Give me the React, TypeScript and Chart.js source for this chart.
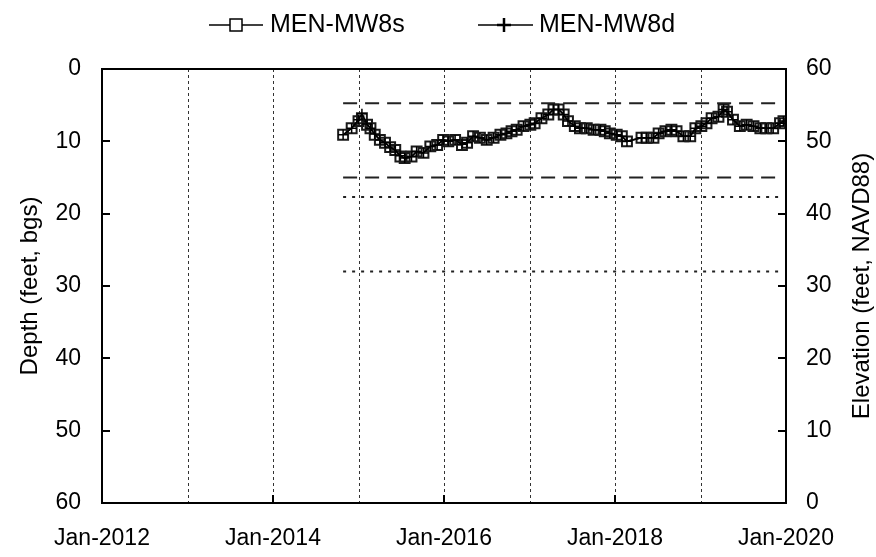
import React, { useEffect, useRef } from 'react';
import { Chart, registerables } from 'chart.js';

Chart.register(...registerables);

// ---- data ----
const sampleDates = [
  2014.82, 2014.92, 2015.0, 2015.04, 2015.1, 2015.14, 2015.19, 2015.25, 2015.31, 2015.37,
  2015.43, 2015.49, 2015.54, 2015.62, 2015.68, 2015.76, 2015.84, 2015.92, 2015.99, 2016.05,
  2016.13, 2016.21, 2016.27, 2016.34, 2016.42, 2016.5, 2016.58, 2016.66, 2016.73, 2016.79,
  2016.85, 2016.93, 2017.01, 2017.06, 2017.14, 2017.22, 2017.28, 2017.34, 2017.4, 2017.45,
  2017.53, 2017.59, 2017.67, 2017.75, 2017.83, 2017.88, 2017.94, 2018.02, 2018.08, 2018.14,
  2018.31, 2018.37, 2018.45, 2018.51, 2018.59, 2018.66, 2018.72, 2018.8, 2018.88, 2018.94,
  2019.01, 2019.07, 2019.13, 2019.21, 2019.27, 2019.31, 2019.38, 2019.46, 2019.54, 2019.62,
  2019.7, 2019.77, 2019.85, 2019.93, 2019.97,
];
const mw8sDepth = [
  9.1, 8.2, 7.2, 6.8, 7.7, 8.2, 9.1, 9.8, 10.2, 10.8,
  11.2, 12.1, 12.3, 12.1, 11.4, 11.6, 10.7, 10.5, 9.8, 10.0,
  9.8, 10.5, 10.2, 9.3, 9.5, 9.8, 9.5, 9.1, 8.9, 8.6,
  8.4, 7.9, 7.7, 7.5, 6.8, 6.3, 5.6, 5.6, 6.3, 7.2,
  7.9, 8.2, 8.2, 8.4, 8.4, 8.6, 8.9, 9.1, 9.3, 10.0,
  9.5, 9.5, 9.5, 8.9, 8.6, 8.4, 8.6, 9.3, 9.3, 8.2,
  7.9, 7.5, 6.8, 6.6, 5.6, 5.9, 7.0, 7.9, 7.7, 7.9,
  8.2, 8.2, 8.2, 7.5, 7.2,
];
const mw8dDepth = [
  9.1, 8.2, 7.0, 6.2, 7.6, 8.2, 9.0, 9.8, 10.2, 10.8,
  11.2, 12.0, 12.3, 12.1, 11.4, 11.6, 10.7, 10.5, 9.8, 10.0,
  9.8, 10.4, 10.2, 9.3, 9.5, 9.8, 9.5, 9.1, 8.9, 8.6,
  8.4, 7.9, 7.7, 7.5, 6.8, 6.3, 5.6, 5.6, 6.3, 7.2,
  7.9, 8.2, 8.2, 8.4, 8.4, 8.6, 8.9, 9.1, 9.3, 10.0,
  9.5, 9.5, 9.5, 8.9, 8.6, 8.4, 8.6, 9.3, 9.3, 8.2,
  7.9, 7.5, 6.8, 6.6, 5.6, 5.9, 7.0, 7.9, 7.7, 7.9,
  8.2, 8.2, 8.2, 7.5, 7.2,
];
const dashedRefDepths = [4.75, 15];
const dottedRefDepths = [17.7, 28];
const refSpan = [2014.82, 2019.95];
const xMin = 2012;
const xMax = 2020;
const labeledYears = [2012, 2014, 2016, 2018, 2020];
const depthMin = 0;
const depthMax = 60;
const seriesNames = ['MEN-MW8s', 'MEN-MW8d'];
const leftTitle = 'Depth (feet, bgs)';
const rightTitle = 'Elevation (feet, NAVD88)';

const FONT = "'Liberation Sans', Arial, sans-serif";

const overlayPlugin = {
  id: 'overlay',
  beforeDatasetsDraw(chart: any) {
    const { ctx, chartArea: a, scales } = chart;
    const xs = scales.x;
    ctx.save();
    ctx.strokeStyle = '#333';
    ctx.lineWidth = 1;
    ctx.setLineDash([3, 3]);
    for (let yr = xMin + 1; yr < xMax; yr++) {
      const px = Math.round(xs.getPixelForValue(yr)) + 0.5;
      ctx.beginPath();
      ctx.moveTo(px, a.top);
      ctx.lineTo(px, a.bottom);
      ctx.stroke();
    }
    ctx.restore();
  },
  afterDraw(chart: any) {
    const { ctx, chartArea: a, scales } = chart;
    const xs = scales.x;
    const ys = scales.y;
    ctx.save();
    ctx.setLineDash([]);
    ctx.strokeStyle = '#000';
    ctx.lineWidth = 2;
    // ticks (inward)
    ctx.beginPath();
    for (let v = depthMin + 10; v < depthMax; v += 10) {
      const py = Math.round(ys.getPixelForValue(v));
      ctx.moveTo(a.left, py);
      ctx.lineTo(a.left + 8, py);
      ctx.moveTo(a.right, py);
      ctx.lineTo(a.right - 8, py);
    }
    labeledYears.forEach((yr) => {
      const px = Math.round(xs.getPixelForValue(yr));
      ctx.moveTo(px, a.bottom);
      ctx.lineTo(px, a.bottom - 8);
    });
    ctx.stroke();
    // frame
    ctx.strokeRect(a.left, a.top, a.right - a.left, a.bottom - a.top);

    // axis titles
    ctx.fillStyle = '#000';
    ctx.font = `24px ${FONT}`;
    ctx.textAlign = 'center';
    ctx.textBaseline = 'middle';
    const cy = (a.top + a.bottom) / 2;
    ctx.save();
    ctx.translate(30, cy);
    ctx.rotate(-Math.PI / 2);
    ctx.fillText(leftTitle, 0, 0);
    ctx.restore();
    ctx.save();
    ctx.translate(chart.width - 14, cy);
    ctx.rotate(-Math.PI / 2);
    ctx.fillText(rightTitle, 0, 0);
    ctx.restore();

    // legend
    const ly = 25;
    ctx.font = `25px ${FONT}`;
    ctx.textAlign = 'left';
    ctx.lineWidth = 1.5;
    // item 1
    ctx.beginPath();
    ctx.moveTo(209, ly);
    ctx.lineTo(263, ly);
    ctx.stroke();
    ctx.fillStyle = '#fff';
    ctx.fillRect(230, ly - 6, 12, 12);
    ctx.strokeRect(230, ly - 6, 12, 12);
    ctx.fillStyle = '#000';
    ctx.fillText(seriesNames[0], 270, ly);
    // item 2
    ctx.beginPath();
    ctx.moveTo(478, ly);
    ctx.lineTo(533, ly);
    ctx.stroke();
    ctx.lineWidth = 2.5;
    ctx.beginPath();
    ctx.moveTo(504, ly - 7);
    ctx.lineTo(504, ly + 7);
    ctx.moveTo(497, ly);
    ctx.lineTo(511, ly);
    ctx.stroke();
    ctx.fillText(seriesNames[1], 539, ly);
    ctx.restore();
  },
};

export default function App() {
  const ref = useRef<HTMLCanvasElement>(null);
  useEffect(() => {
    document.body.style.margin = '0';
    const refLine = (d: number, dash: number[]) => ({
      label: 'ref',
      data: refSpan.map((x) => ({ x, y: d })),
      borderColor: '#222',
      borderWidth: 2,
      borderDash: dash,
      pointRadius: 0,
      yAxisID: 'y',
    });
    const chart = new Chart(ref.current!, {
      type: 'line',
      data: {
        datasets: [
          {
            label: seriesNames[1],
            data: sampleDates.map((x, i) => ({ x, y: mw8dDepth[i] })),
            borderColor: '#000',
            borderWidth: 1.5,
            pointStyle: 'cross',
            pointRadius: 5,
            pointBorderWidth: 1.5,
            pointBorderColor: '#000',
            yAxisID: 'y',
          },
          {
            label: seriesNames[0],
            data: sampleDates.map((x, i) => ({ x, y: mw8sDepth[i] })),
            borderColor: '#000',
            borderWidth: 1.5,
            pointStyle: 'rect',
            pointRadius: 7,
            pointBorderWidth: 2,
            pointBorderColor: '#1a1a1a',
            pointBackgroundColor: 'rgba(0,0,0,0)',
            yAxisID: 'y',
          },
          ...dashedRefDepths.map((d) => refLine(d, [14, 8])),
          ...dottedRefDepths.map((d) => refLine(d, [3, 6])),
        ] as any,
      },
      options: {
        animation: false,
        responsive: true,
        maintainAspectRatio: false,
        layout: { padding: { top: 69, left: 0, right: 0, bottom: 0 } },
        plugins: { legend: { display: false }, tooltip: { enabled: false } },
        scales: {
          x: {
            type: 'linear',
            position: 'bottom',
            min: xMin,
            max: xMax,
            grid: { display: false, drawTicks: false },
            border: { display: false },
            ticks: {
              stepSize: 1,
              autoSkip: false,
              maxRotation: 0,
              padding: 22,
              color: '#000',
              font: { size: 23, family: FONT },
              callback: (v: any) => (labeledYears.includes(Number(v)) ? `Jan-${v}` : ''),
            },
            afterFit: (s: any) => {
              s.height = 54;
            },
          },
          y: {
            type: 'linear',
            position: 'left',
            reverse: true,
            min: depthMin,
            max: depthMax,
            grid: { display: false, drawTicks: false },
            border: { display: false },
            ticks: {
              stepSize: 10,
              padding: 21,
              color: '#000',
              font: { size: 23, family: FONT },
            },
            afterFit: (s: any) => {
              s.width = 102;
            },
          },
          y2: {
            type: 'linear',
            position: 'right',
            min: 60 - depthMax,
            max: 60 - depthMin,
            grid: { display: false, drawTicks: false },
            border: { display: false },
            ticks: {
              stepSize: 10,
              padding: 20,
              color: '#000',
              font: { size: 23, family: FONT },
            },
            afterFit: (s: any) => {
              s.width = 90;
            },
          },
        },
      } as any,
      plugins: [overlayPlugin],
    });
    return () => chart.destroy();
  }, []);
  return (
    <div style={{ position: 'fixed', left: 0, top: 0, width: 876, height: 557 }}>
      <canvas ref={ref} />
    </div>
  );
}
